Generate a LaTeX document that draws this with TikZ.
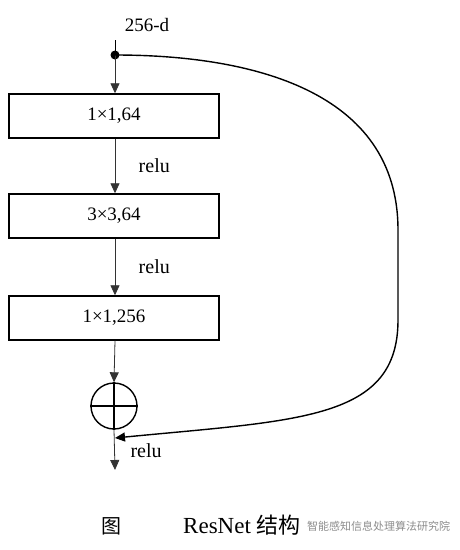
\documentclass[tikz,border=0pt]{standalone}
\usepackage{fontspec}
\setmainfont{Liberation Serif}
\newfontfamily\cjk{Noto Sans CJK SC}
\usetikzlibrary{arrows.meta,positioning}

\tikzset{
  layerbox/.style={draw,line width=1.4pt,minimum width=210pt,minimum height=44pt,inner sep=0pt},
  flow/.style={->,line width=0.8pt,draw=black!80},
  skipline/.style={->,line width=1.4pt},
  actlabel/.style={font=\fontsize{20}{20}\selectfont}
}

\begin{document}
\begin{tikzpicture}[x=1pt,y=-1pt,>={Triangle[width=9pt,length=10pt]},font=\fontsize{19}{19}\selectfont]
\useasboundingbox (0,0) rectangle (460,550);

\node [anchor=base] (indim) at (147,31) {256-d};
\coordinate (top) at (115,40);
\coordinate (split) at (115,55);
\node [layerbox] (conv1) at (114,116) {1×1,64};
\node [layerbox] (conv2) at (114,216) {3×3,64};
\node [layerbox] (conv3) at (114,318) {1×1,256};
\node [circle,draw,line width=1.4pt,minimum size=46pt,inner sep=0pt] (add) at (114,406) {};
\coordinate (join) at (115,438);
\coordinate (out) at (115,470);

\draw [line width=0.8pt] (top) -- (split);
\fill (split) circle (4.5pt);
\draw [flow] (split) -- (conv1.north -| split);
\draw [flow] (conv1.south -| split) -- node [right=20pt,actlabel] {relu} (conv2.north -| split);
\draw [flow] (conv2.south -| split) -- node [right=20pt,actlabel] {relu} (conv3.north -| split);
\draw [flow] (conv3.south -| split) -- (add.north);
\draw [line width=1.1pt] (add.north) -- (add.south) (add.west) -- (add.east);
\draw [flow] (add.south) -- (out);
\node [actlabel,anchor=base west] (relu3) at (127,457) {relu};

% shortcut
\draw [skipline] (split) .. controls (250,55) and (398,90) .. (398,230)
  -- (398,320) .. controls (398,420) and (300,420) .. (join);

% caption
\node [anchor=base,font=\cjk\fontsize{20}{20}\selectfont] (figtag) at (111,533) {图};
\node [anchor=base west,font=\fontsize{23}{23}\selectfont,inner sep=0pt] (figname) at (183,533) {ResNet {\cjk\fontsize{22}{22}\selectfont 结构}};
\node [anchor=base west,font=\cjk\fontsize{11}{11}\selectfont,text=black!45,inner sep=0pt] (mark) at (307,530) {智能感知信息处理算法研究院};
\end{tikzpicture}
\end{document}
